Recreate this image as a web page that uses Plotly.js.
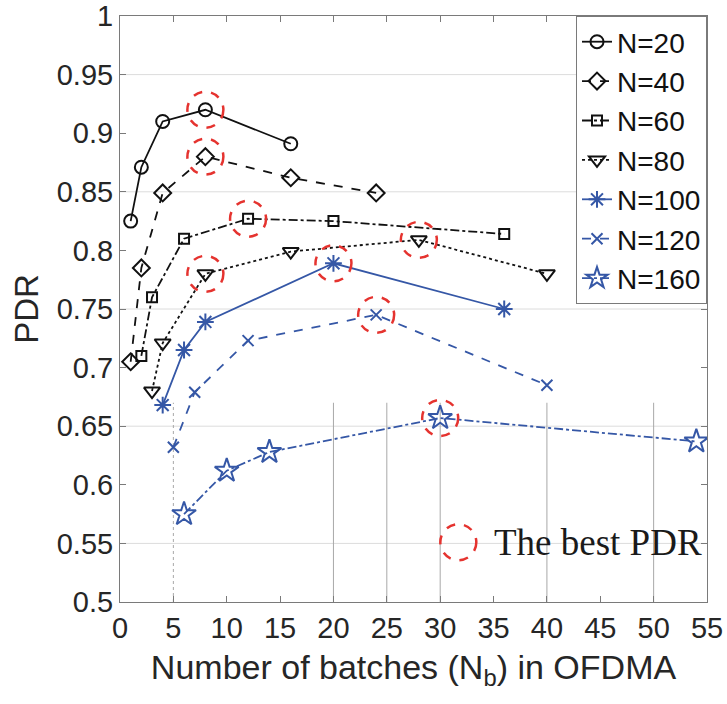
<!DOCTYPE html>
<html>
<head>
<meta charset="utf-8">
<script src="https://cdn.plot.ly/plotly-3.0.1.min.js"></script>
<style>
  html, body { margin: 0; padding: 0; background: #fff; }
  #chart { width: 727px; height: 704px; }
</style>
</head>
<body>
<div id="chart"></div>
<script>
// Packet delivery ratio versus number of OFDMA batches, per network size N
const seriesNames = ['N=20', 'N=40', 'N=60', 'N=80', 'N=100', 'N=120', 'N=160'];

const x20 = [1, 2, 4, 8, 16];
const y20 = [0.825, 0.871, 0.910, 0.920, 0.891];

const x40 = [1, 2, 4, 8, 16, 24];
const y40 = [0.705, 0.785, 0.849, 0.880, 0.862, 0.849];

const x60 = [2, 3, 6, 12, 20, 36];
const y60 = [0.710, 0.760, 0.810, 0.827, 0.825, 0.814];

const x80 = [3, 4, 8, 16, 28, 40];
const y80 = [0.680, 0.721, 0.780, 0.799, 0.809, 0.780];

const x100 = [4, 6, 8, 20, 36];
const y100 = [0.668, 0.715, 0.739, 0.789, 0.750];

const x120 = [5, 7, 12, 24, 40];
const y120 = [0.632, 0.679, 0.723, 0.745, 0.685];

const x160 = [6, 10, 14, 30, 54];
const y160 = [0.575, 0.612, 0.628, 0.657, 0.637];

// Highlighted points: [series index, x value]
const bestPoints = [[0, 8], [1, 8], [2, 12], [3, 8], [3, 28], [4, 20], [5, 24], [6, 30]];

// Axis ticks
const xTicks = [0, 5, 10, 15, 20, 25, 30, 35, 40, 45, 50, 55];
const yTicks = [0.5, 0.55, 0.6, 0.65, 0.7, 0.75, 0.8, 0.85, 0.9, 0.95, 1];

// Reference lines drawn in the plot
const hGridY = [0.55, 0.65, 0.75, 0.85, 0.95];
const vGridX = [5, 20, 25, 30, 40, 50];
const vGridTop = 0.67;

const allX = [x20, x40, x60, x80, x100, x120, x160];
const allY = [y20, y40, y60, y80, y100, y120, y160];

const BLACK = '#111111';
const BLUE = '#3557a6';
const RED = '#e5332f';

const styles = [
  { color: BLACK, dash: 'solid',   symbol: 'circle-open',        size: 13 },
  { color: BLACK, dash: 'dash',    symbol: 'diamond-open',       size: 13 },
  { color: BLACK, dash: 'dashdot', symbol: 'square-open',        size: 10 },
  { color: BLACK, dash: 'dot',     symbol: 'triangle-down-open', size: 14 },
  { color: BLUE,  dash: 'solid',   symbol: 'asterisk-open',      size: 14 },
  { color: BLUE,  dash: 'dash',    symbol: 'x-thin-open',        size: 11 },
  { color: BLUE,  dash: 'dashdot', symbol: 'star-open',          size: 18 }
];

const traces = seriesNames.map((name, i) => ({
  type: 'scatter',
  mode: 'lines+markers',
  name: name,
  x: allX[i],
  y: allY[i],
  line: { color: styles[i].color, width: 1.8, dash: styles[i].dash },
  marker: {
    symbol: styles[i].symbol,
    size: styles[i].size,
    color: styles[i].color,
    line: { color: styles[i].color, width: 2 }
  }
}));

const shapes = [];

hGridY.forEach(v => shapes.push({
  type: 'line', xref: 'paper', yref: 'y', x0: 0, x1: 1, y0: v, y1: v,
  line: { color: '#dcdcdc', width: 1 }, layer: 'below'
}));

vGridX.forEach((v, k) => shapes.push({
  type: 'line', xref: 'x', yref: 'y', x0: v, x1: v, y0: 0.5, y1: vGridTop,
  line: { color: '#a8a8a8', width: 1, dash: k === 0 ? 'dot' : 'solid' }, layer: 'below'
}));

const circleR = 18;
bestPoints.forEach(([s, xv]) => {
  const idx = allX[s].indexOf(xv);
  shapes.push({
    type: 'circle', xref: 'x', yref: 'y',
    xsizemode: 'pixel', ysizemode: 'pixel',
    xanchor: xv, yanchor: allY[s][idx],
    x0: -circleR, x1: circleR, y0: -circleR, y1: circleR,
    line: { color: RED, width: 2.5, dash: 'dash' }
  });
});

// Key for the highlight circles
const keyX = 31.7, keyY = 0.551;
shapes.push({
  type: 'circle', xref: 'x', yref: 'y',
  xsizemode: 'pixel', ysizemode: 'pixel',
  xanchor: keyX, yanchor: keyY,
  x0: -circleR, x1: circleR, y0: -circleR, y1: circleR,
  line: { color: RED, width: 2.5, dash: 'dash' }
});

const tickFont = { family: 'Liberation Sans, Arial, sans-serif', size: 29, color: '#262626' };

const layout = {
  width: 727,
  height: 704,
  margin: { l: 120, r: 20, t: 16, b: 102 },
  paper_bgcolor: '#ffffff',
  plot_bgcolor: '#ffffff',
  showlegend: true,
  legend: {
    x: 1, y: 1, xanchor: 'right', yanchor: 'top',
    bgcolor: '#ffffff', bordercolor: '#7a7a7a', borderwidth: 1,
    font: { family: 'Liberation Sans, Arial, sans-serif', size: 28, color: '#111111' },
    itemwidth: 30,
    tracegroupgap: 0
  },
  xaxis: {
    range: [0, 55],
    tickvals: xTicks,
    ticktext: xTicks.map(String),
    showgrid: false,
    zeroline: false,
    showline: true, linecolor: '#7a7a7a', linewidth: 1,
    mirror: 'ticks',
    ticks: 'inside', ticklen: 6, tickcolor: '#7a7a7a',
    tickfont: tickFont,
    title: {
      text: 'Number of batches (N<sub>b</sub>) in OFDMA',
      font: { family: 'Liberation Sans, Arial, sans-serif', size: 34, color: '#262626' },
      standoff: 12
    }
  },
  yaxis: {
    range: [0.5, 1],
    tickvals: yTicks,
    ticktext: yTicks.map(v => String(+v.toFixed(2))),
    showgrid: false,
    zeroline: false,
    showline: true, linecolor: '#7a7a7a', linewidth: 1,
    mirror: 'ticks',
    ticks: 'inside', ticklen: 6, tickcolor: '#7a7a7a',
    tickfont: tickFont,
    title: {
      text: 'PDR',
      font: { family: 'Liberation Sans, Arial, sans-serif', size: 33, color: '#262626' },
      standoff: 8
    }
  },
  shapes: shapes,
  annotations: [{
    xref: 'x', yref: 'y', x: 34.9, y: keyY,
    xanchor: 'left', yanchor: 'middle',
    text: 'The best PDR', showarrow: false,
    font: { family: 'Liberation Serif, Times New Roman, serif', size: 37, color: '#1a1a1a' }
  }]
};

Plotly.newPlot('chart', traces, layout, { displayModeBar: false, staticPlot: true });
</script>
</body>
</html>
